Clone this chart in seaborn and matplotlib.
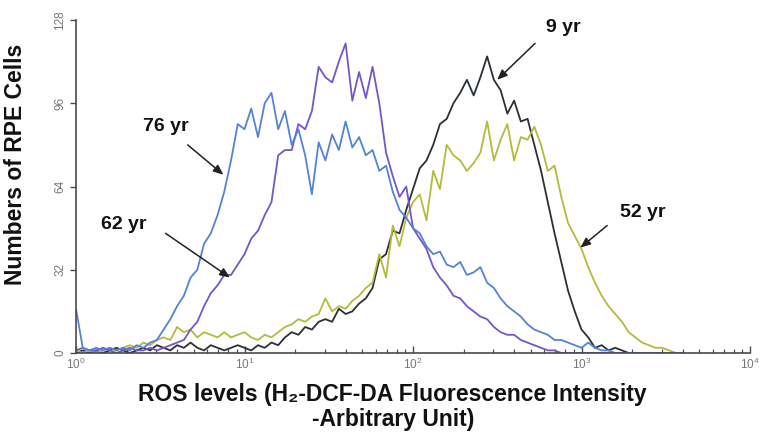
import numpy as np
import pandas as pd
import matplotlib
matplotlib.use("Agg")
import matplotlib.pyplot as plt
import seaborn as sns

# ---- data ----
# histogram bin positions, in decades of fluorescence intensity
log_intensity = np.round(np.arange(91) * 0.04, 2)

ages = ["9 yr", "52 yr", "62 yr", "76 yr"]

counts_9yr = [0, 1, 0, 1, 0, 1, 2, 1, 0, 1,
              2, 1, 3, 2, 1, 3, 2, 4, 2, 1,
              3, 2, 1, 2, 3, 2, 1, 3, 2, 4,
              3, 6, 8, 7, 10, 9, 12, 13, 12, 17,
              15, 16, 19, 21, 25, 36, 38, 47, 46, 55,
              63, 71, 74, 80, 88, 90, 96, 100, 105, 99,
              106, 114, 105, 101, 92, 97, 89, 90, 80, 70,
              58, 46, 35, 24, 16, 9, 6, 2, 3, 1,
              2, 1, 0, 0, 0, 0, 0, 0, 0, 0, 0]

counts_52yr = [1, 0, 1, 0, 1, 2, 1, 2, 3, 2,
               4, 3, 5, 6, 5, 10, 8, 9, 6, 8,
               7, 6, 8, 6, 7, 8, 6, 5, 7, 6,
               8, 10, 11, 13, 12, 14, 15, 21, 16, 18,
               17, 20, 22, 25, 27, 38, 29, 49, 41, 52,
               58, 61, 51, 70, 63, 80, 76, 74, 70, 73,
               77, 89, 74, 82, 88, 74, 83, 82, 87, 80,
               70, 72, 60, 50, 45, 40, 33, 27, 22, 18,
               15, 12, 8, 6, 4, 3, 2, 2, 1, 0, 0]

counts_62yr = [1, 2, 1, 1, 2, 1, 0, 1, 2, 1,
               1, 2, 1, 2, 3, 4, 5, 9, 12, 18,
               23, 26, 30, 30, 34, 38, 44, 47, 53, 58,
               76, 78, 78, 88, 86, 93, 110, 106, 104, 112,
               119, 97, 108, 98, 110, 96, 77, 68, 60, 64,
               48, 44, 40, 33, 29, 26, 22, 21, 18, 16,
               14, 13, 10, 8, 7, 7, 5, 4, 3, 2,
               1, 1, 0, 0, 0, 0, 0, 0, 0, 0,
               0, 0, 0, 0, 0, 0, 0, 0, 0, 0, 0]

counts_76yr = [17, 2, 1, 2, 1, 2, 1, 2, 1, 3,
               2, 4, 5, 9, 13, 18, 22, 29, 32, 42,
               46, 53, 62, 74, 88, 86, 94, 83, 96, 100,
               86, 93, 80, 86, 76, 61, 81, 74, 84, 78,
               89, 79, 83, 76, 78, 70, 72, 62, 55, 52,
               48, 46, 41, 38, 39, 34, 33, 35, 30, 31,
               33, 27, 25, 21, 18, 16, 14, 11, 9, 8,
               7, 5, 5, 4, 3, 2, 4, 2, 1, 1,
               0, 0, 0, 0, 0, 0, 0, 0, 0, 0, 0]

y_ticks = [0, 32, 64, 96, 128]

series = {"9 yr": counts_9yr, "52 yr": counts_52yr,
          "62 yr": counts_62yr, "76 yr": counts_76yr}

df = pd.concat(
    [pd.DataFrame({"log_intensity": log_intensity, "count": vals, "age": age})
     for age, vals in series.items()],
    ignore_index=True)
df["intensity"] = 10 ** df["log_intensity"]

palette = {"9 yr": "#2b3038", "52 yr": "#b4ba3a",
           "62 yr": "#7456c8", "76 yr": "#5283d6"}

# ---- style ----
sns.set_style("ticks")
plt.rcParams["font.family"] = ["Liberation Sans", "DejaVu Sans"]
plt.rcParams["mathtext.default"] = "regular"

fig = plt.figure(figsize=(7.63, 4.37), dpi=100)
ax = fig.add_axes([76 / 763, 1 - 353 / 437, 674 / 763, 333 / 437])

sns.lineplot(data=df, x="intensity", y="count", hue="age", hue_order=ages,
             palette=palette, estimator=None, linewidth=1.3, legend=False,
             ax=ax)

ax.set_xscale("log")
ax.set_xlim(1, 1e4)
ax.set_ylim(0, 128)
ax.set_yticks(y_ticks)
ax.set_yticklabels([str(t) for t in y_ticks], rotation=90, va="center")

for s in ["top", "right"]:
    ax.spines[s].set_visible(False)
for s in ["left", "bottom"]:
    ax.spines[s].set_color("#4a4a4a")
    ax.spines[s].set_linewidth(1.2)

ax.tick_params(axis="x", which="major", direction="in", length=5, width=1,
               color="#4a4a4a", labelsize=8.5, labelcolor="#777777", pad=3)
ax.tick_params(axis="x", which="minor", direction="in", length=3, width=0.9,
               color="#4a4a4a")
ax.tick_params(axis="y", which="major", direction="out", length=4, width=1,
               color="#4a4a4a", labelsize=8.5, labelcolor="#777777", pad=3)

ax.set_ylabel("Numbers of RPE Cells", fontsize=16.5, fontweight="bold",
              color="#111111")
ax.yaxis.set_label_coords(-0.072, 0.565)
ax.set_xlabel("ROS levels (H\u2082-DCF-DA Fluorescence Intensity\n-Arbitrary Unit)",
              fontsize=16.5, fontweight="bold", color="#111111", linespacing=1.1)
ax.xaxis.set_label_coords(0.47, -0.09)

# ---- annotations ----
labels = [
    ("76 yr", (3.42, 87), (4.6, 80), (7.5, 68.5)),
    ("62 yr", (1.93, 49.5), (3.4, 46), (8.2, 29)),
    ("9 yr", (776, 125), (530, 119), (316, 105)),
    ("52 yr", (2320, 54), (1420, 49), (985, 40.5)),
]
for txt, tpos, tail, tip in labels:
    ax.text(tpos[0], tpos[1], txt, fontsize=14, fontweight="bold",
            ha="center", va="center", color="#111111")
    ax.annotate("", xy=tip, xytext=tail,
                arrowprops=dict(arrowstyle="-|>,head_length=0.6,head_width=0.25",
                                color="#222222", lw=1.1, shrinkA=0, shrinkB=0))

fig.savefig("out.png", dpi=100)
